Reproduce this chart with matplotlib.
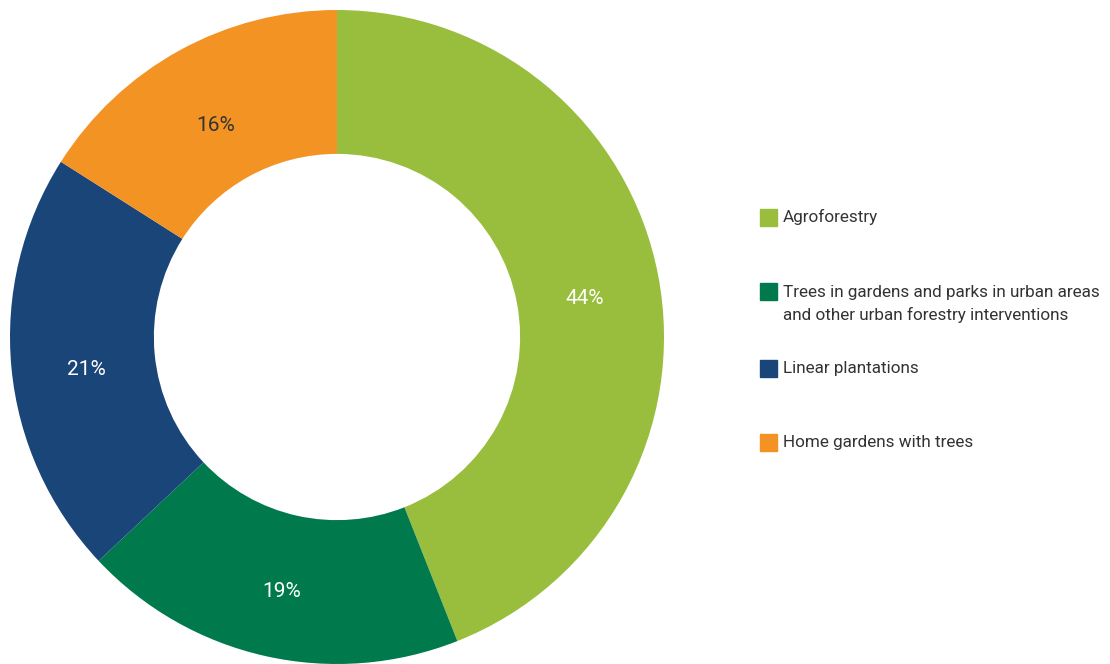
import matplotlib.pyplot as plt

plt.rcParams['font.family'] = ['Roboto', 'DejaVu Sans']

categories = ['Agroforestry',
              'Trees in gardens and parks in urban areas\nand other urban forestry interventions',
              'Linear plantations',
              'Home gardens with trees']
shares = [44, 19, 21, 16]
colors = ['#99bd3c', '#007a4d', '#1a4578', '#f39323']
label_colors = ['white', 'white', 'white', '#333333']

fig = plt.figure(figsize=(11.1, 6.64), dpi=100)
ax = fig.add_axes([10 / 1110, 0, 654 / 1110, 654 / 664])

wedges, texts, autotexts = ax.pie(shares, colors=colors, startangle=90, counterclock=False,
                                  radius=1, wedgeprops=dict(width=0.44, linewidth=0),
                                  autopct='%d%%', pctdistance=0.77,
                                  textprops=dict(fontsize=15))
for t, c in zip(autotexts, label_colors):
    t.set_color(c)
    x, y = t.get_position()
    t.set_position((x, y - 0.028))
ax.set_xlim(-1, 1)
ax.set_ylim(-1, 1)
ax.set_aspect('equal')
ax.axis('off')

# legend, one entry at a time to keep the uneven spacing
ys = [217, 291, 368, 442]
for w, lab, y in zip(wedges, categories, ys):
    yf = 1 - y / 664
    fig.patches.append(plt.Rectangle((760 / 1110, yf - 8.5 / 664), 17 / 1110, 17 / 664,
                                     transform=fig.transFigure, color=w.get_facecolor()))
    ty = yf if '\n' not in lab else yf - 13 / 664
    fig.text(783 / 1110, ty, lab, fontsize=12.3, color='#333333', va='center',
             linespacing=1.5)

fig.savefig('out.png', dpi=100)
